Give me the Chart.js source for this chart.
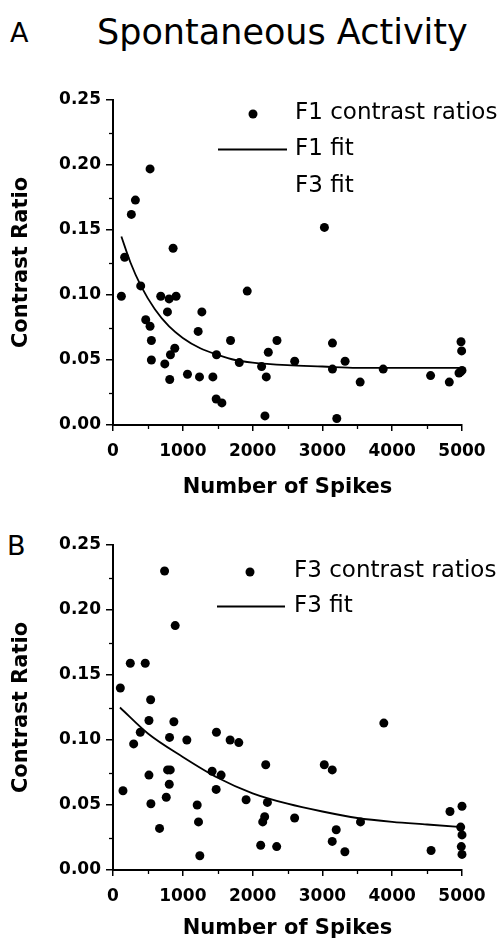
<!DOCTYPE html>
<html><head><meta charset="utf-8">
<script src="https://cdn.jsdelivr.net/npm/chart.js@4.4.0/dist/chart.umd.min.js"></script>
<style>
html,body{margin:0;padding:0;background:#fff;}
body{width:503px;height:944px;position:relative;overflow:hidden;font-family:'DejaVu Sans';}
.lbl{position:absolute;line-height:1;color:#000;white-space:nowrap;font-family:'DejaVu Sans';}
#wa{position:absolute;left:0;top:0;width:503px;height:500px;}
#wb{position:absolute;left:0;top:500px;width:503px;height:444px;}
</style></head><body>
<div class="lbl" style="left:97px;top:15px;font-size:35px;">Spontaneous Activity</div>
<div class="lbl" style="left:10px;top:19px;font-size:27px;">A</div>
<div class="lbl" style="left:7px;top:532px;font-size:27px;">B</div>
<div id="wa"><canvas id="ca"></canvas></div>
<div id="wb"><canvas id="cb"></canvas></div>
<script>
// ---- data ----
const xTickValues = [0, 1000, 2000, 3000, 4000, 5000];
const xTickLabels = ['0', '1000', '2000', '3000', '4000', '5000'];
const xMinorTicks = [500, 1500, 2500, 3500, 4500];
const yTickValues = [0, 0.05, 0.10, 0.15, 0.20, 0.25];
const yTickLabels = ['0.00', '0.05', '0.10', '0.15', '0.20', '0.25'];
const yMinorTicks = [0.025, 0.075, 0.125, 0.175, 0.225];

const f1Spikes = [120,167,263,321,531,397,469,531,550,550,684,742,780,804,861,904,813,823,885,1067,1220,1273,1239,1431,1483,1478,1560,1684,1809,1923,2129,2196,2177,2225,2349,2603,3029,3144,3144,3206,3325,3541,3871,4550,4818,4986,4995,4981,5000,4957];
const f1Ratio  = [0.099,0.129,0.162,0.173,0.197,0.107,0.081,0.076,0.065,0.050,0.099,0.047,0.087,0.097,0.136,0.099,0.035,0.054,0.059,0.039,0.072,0.087,0.037,0.037,0.054,0.020,0.017,0.065,0.048,0.103,0.045,0.037,0.007,0.056,0.065,0.049,0.152,0.063,0.043,0.005,0.049,0.033,0.043,0.038,0.033,0.064,0.057,0.041,0.042,0.040];
const f1FitX = [120,250,400,600,800,1000,1250,1500,1750,2000,2500,3000,3500,4000,4500,5000];
const f1FitY = [0.145,0.125,0.107,0.089,0.076,0.067,0.059,0.054,0.050,0.048,0.046,0.045,0.044,0.044,0.044,0.044];

const f3Spikes = [105,143,248,296,391,462,515,539,515,543,667,739,763,782,806,810,820,872,891,1058,1206,1225,1244,1420,1482,1478,1549,1678,1802,1907,2116,2145,2173,2188,2212,2345,2602,3027,3141,3141,3198,3322,3546,3880,4557,4828,5000,4981,5000,4990,5000];
const f3Ratio  = [0.140,0.061,0.159,0.097,0.106,0.159,0.115,0.131,0.073,0.051,0.032,0.230,0.056,0.077,0.066,0.102,0.077,0.114,0.188,0.100,0.050,0.037,0.011,0.076,0.106,0.062,0.073,0.100,0.098,0.054,0.019,0.037,0.041,0.081,0.052,0.018,0.040,0.081,0.077,0.022,0.031,0.014,0.037,0.113,0.015,0.045,0.049,0.033,0.027,0.018,0.012];
const f3FitX = [100,500,1000,1500,2000,2500,3000,3500,4000,4500,5000];
const f3FitY = [0.125,0.105,0.087,0.071,0.059,0.051,0.045,0.040,0.037,0.035,0.033];

const legendA = [
  {kind: 'point', text: 'F1 contrast ratios'},
  {kind: 'line', text: 'F1 fit'},
  {kind: 'none', text: 'F3 fit'}
];
const legendB = [
  {kind: 'point', text: 'F3 contrast ratios'},
  {kind: 'line', text: 'F3 fit'}
];

// ---- plugins ----
const panelLegend = {
  id: 'panelLegend',
  afterDraw(chart, args, o) {
    const ctx = chart.ctx;
    ctx.save();
    ctx.font = '23px "DejaVu Sans"';
    ctx.fillStyle = '#000';
    ctx.strokeStyle = '#000';
    ctx.textBaseline = 'middle';
    ctx.textAlign = 'left';
    o.items.forEach((it, i) => {
      const y = o.y0 + i * o.dy;
      if (it.kind === 'point') {
        ctx.beginPath(); ctx.arc(o.pointX, y + 1, 4.5, 0, Math.PI * 2); ctx.fill();
      } else if (it.kind === 'line') {
        ctx.lineWidth = 1.8; ctx.beginPath(); ctx.moveTo(o.lineX0, y); ctx.lineTo(o.lineX1, y); ctx.stroke();
      }
      ctx.fillText(it.text, o.textX, y);
    });
    ctx.restore();
  }
};
const minorTickPlugin = {
  id: 'minorTicks',
  afterDraw(chart) {
    const {ctx, scales: {x, y}} = chart;
    ctx.save();
    ctx.strokeStyle = '#000';
    ctx.lineWidth = 1.3;
    xMinorTicks.forEach(v => {
      const px = Math.round(x.getPixelForValue(v)) + 0.5;
      ctx.beginPath(); ctx.moveTo(px, y.bottom); ctx.lineTo(px, y.bottom + 4); ctx.stroke();
    });
    yMinorTicks.forEach(v => {
      const py = Math.round(y.getPixelForValue(v)) + 0.5;
      ctx.beginPath(); ctx.moveTo(x.left, py); ctx.lineTo(x.left - 4, py); ctx.stroke();
    });
    ctx.restore();
  }
};

function makeChart(id, xs, ys, fx, fy, cfg) {
  const pts = xs.map((v, i) => ({x: v, y: ys[i]}));
  const fit = fx.map((v, i) => ({x: v, y: fy[i]}));
  return new Chart(document.getElementById(id), {
    type: 'scatter',
    data: {
      datasets: [
        {data: fit, showLine: true, borderColor: '#000', borderWidth: 1.8, pointRadius: 0,
         cubicInterpolationMode: 'monotone', fill: false, clip: false, order: 0},
        {data: pts, pointRadius: 4.5, pointBackgroundColor: '#000', pointBorderWidth: 0,
         backgroundColor: '#000', borderColor: '#000', clip: false, order: 1}
      ]
    },
    options: {
      responsive: true, maintainAspectRatio: false, animation: false,
      layout: {padding: {top: cfg.padTop, right: 41, bottom: 0, left: 0}},
      plugins: {
        legend: {display: false}, tooltip: {enabled: false},
        panelLegend: cfg.legend
      },
      scales: {
        x: {
          type: 'linear', min: 0, max: 5000,
          afterBuildTicks: s => { s.ticks = xTickValues.map(v => ({value: v})); },
          afterFit: s => { s.height = cfg.xHeight; },
          ticks: {callback: (v, i) => xTickLabels[i], color: '#000', padding: 10,
                  font: {family: 'DejaVu Sans', weight: 'bold', size: 17}, maxRotation: 0},
          grid: {display: true, drawOnChartArea: false, drawTicks: true, tickLength: 6, color: '#000', lineWidth: 1.5},
          border: {display: true, color: '#000', width: 2},
          title: {display: true, text: 'Number of Spikes', color: '#000',
                  font: {family: 'DejaVu Sans', weight: 'bold', size: 21},
                  padding: {top: 0, bottom: cfg.xTitlePad}}
        },
        y: {
          type: 'linear', min: 0, max: 0.25,
          afterBuildTicks: s => { s.ticks = yTickValues.map(v => ({value: v})); },
          afterFit: s => { s.width = 113; },
          ticks: {callback: (v, i) => yTickLabels[i], color: '#000', padding: 5,
                  font: {family: 'DejaVu Sans', weight: 'bold', size: 17}},
          grid: {display: true, drawOnChartArea: false, drawTicks: true, tickLength: 7, color: '#000', lineWidth: 1.5},
          border: {display: true, color: '#000', width: 2},
          title: {display: true, text: 'Contrast Ratio', color: '#000',
                  font: {family: 'DejaVu Sans', weight: 'bold', size: 21},
                  padding: {top: 9, bottom: 0}}
        }
      }
    },
    plugins: [panelLegend, minorTickPlugin]
  });
}

makeChart('ca', f1Spikes, f1Ratio, f1FitX, f1FitY, {
  padTop: 100, xHeight: 75, xTitlePad: 0,
  legend: {items: legendA, y0: 113, dy: 36.5, pointX: 253, lineX0: 218, lineX1: 287, textX: 295}
});
makeChart('cb', f3Spikes, f3Ratio, f3FitX, f3FitY, {
  padTop: 45, xHeight: 74, xTitlePad: 3,
  legend: {items: legendB, y0: 71, dy: 35.5, pointX: 250, lineX0: 217, lineX1: 285, textX: 294}
});
</script>
</body></html>
